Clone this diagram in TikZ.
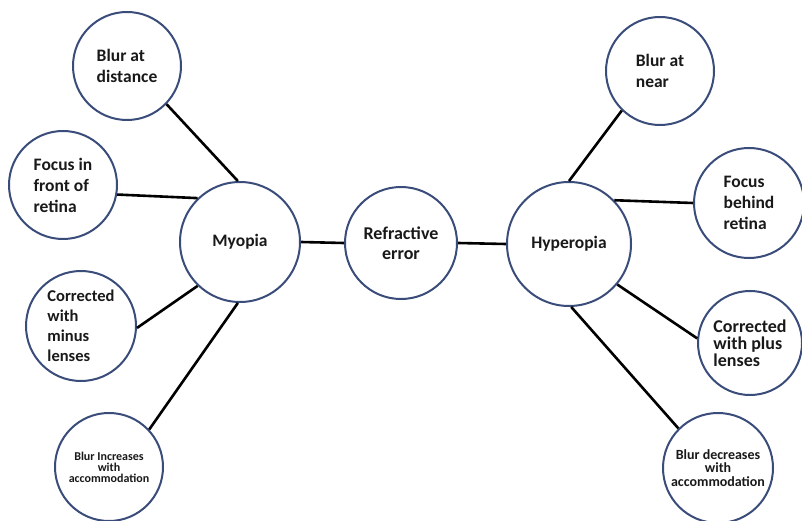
\documentclass[tikz,border=0pt]{standalone}
\usepackage{fontspec}
\setmainfont{Carlito}
\definecolor{ringblue}{RGB}{58,76,122}
\definecolor{inkblack}{RGB}{25,25,25}
\tikzset{
  bubble/.style={circle, draw=ringblue, line width=2pt, fill=white, inner sep=0pt,
    text=inkblack, font=\bfseries},
  big/.style={font=\bfseries\fontsize{17.5}{21}\selectfont},
  link/.style={draw=black, line width=2.6pt}
}
\begin{document}
\begin{tikzpicture}[x=1pt,y=-1pt]
\useasboundingbox[fill=white] (0,0) rectangle (802,521);
% left side
\node[bubble, big, minimum size=108pt, align=left] (bd) at (127,66) {Blur at\\distance};
\node[bubble, big, minimum size=108pt, align=left] (fif) at (63,185) {Focus in\\front of\\retina};
\node[bubble, minimum size=110pt, align=left, font=\bfseries\fontsize{16.5}{20}\selectfont] (cm) at (81,326) {Corrected\\with\\minus\\lenses};
\node[bubble, minimum size=108pt, align=center, font=\bfseries\fontsize{12}{11}\selectfont] (bi) at (109,467) {Blur Increases\\with\\accommodation};
\node[bubble, big, minimum size=120pt] (my) at (240,242) {Myopia};
% centre
\node[bubble, big, minimum size=112pt, align=center, font=\bfseries\fontsize{18}{20}\selectfont] (re) at (401,243) {Refractive\\error};
% right side
\node[bubble, big, minimum size=124pt] (hy) at (569,244) {Hyperopia};
\node[bubble, big, minimum size=108pt, align=left] (bn) at (660,71) {Blur at\\near};
\node[bubble, big, minimum size=110pt, align=left] (fb) at (749,203) {Focus\\behind\\retina};
\node[bubble, minimum size=104pt, align=left, font=\bfseries\fontsize{18}{17}\selectfont] (cp) at (750,343) {Corrected\\with plus\\lenses};
\node[bubble, minimum size=110pt, align=center, font=\bfseries\fontsize{14}{13.5}\selectfont] (bdc) at (718,468) {Blur decreases\\with\\accommodation};
% connectors
\draw[link] (bd.-44) -- (my.92);
\draw[link] (fif.-10) -- (my.134);
\draw[link] (cm.-2) -- (my.226);
\draw[link] (bi.43) -- (my.268);
\draw[link] (my.east) -- (re.west);
\draw[link] (re.east) -- (hy.west);
\draw[link] (hy.90) -- (bn.226);
\draw[link] (hy.44) -- (fb.180);
\draw[link] (hy.-40) -- (cp.175);
\draw[link] (hy.-88) -- (bdc.135);
\end{tikzpicture}
\end{document}
